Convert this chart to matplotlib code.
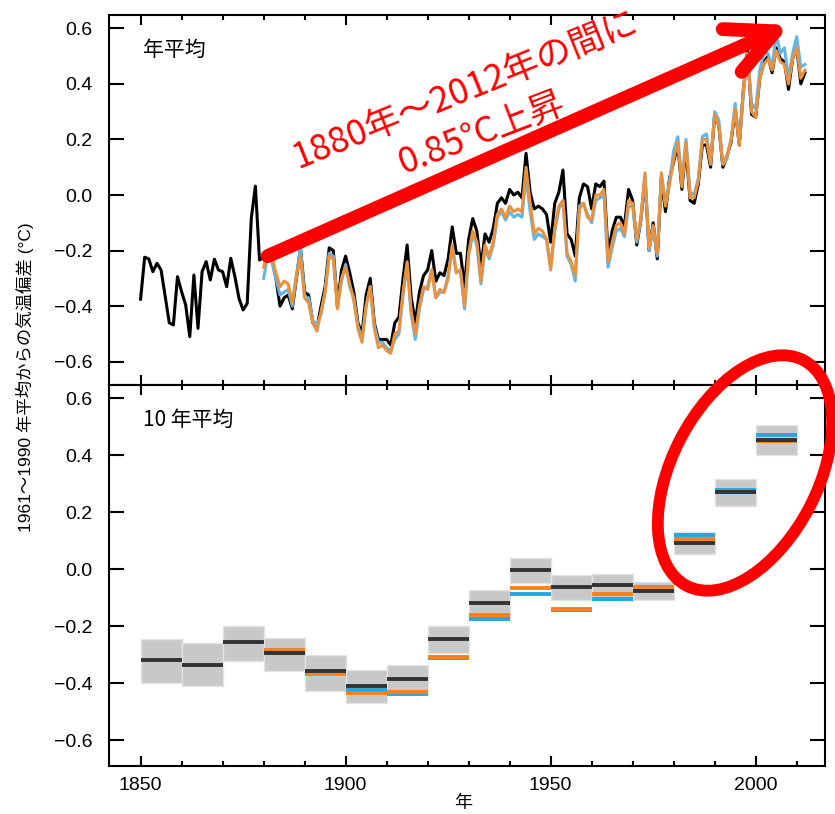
import matplotlib
matplotlib.use('Agg')
import matplotlib.pyplot as plt
from matplotlib.patches import Ellipse, FancyArrowPatch
from matplotlib.transforms import IdentityTransform
from matplotlib.ticker import MultipleLocator, FuncFormatter

plt.rcParams['font.family'] = ['Liberation Sans', 'Noto Sans CJK JP', 'DejaVu Sans']

# ---------------- data ----------------
years_black = list(range(1850, 2013))
hadcrut4 = [
    -0.375, -0.224, -0.230, -0.276, -0.246, -0.270, -0.366, -0.460, -0.468, -0.294,
    -0.348, -0.396, -0.510, -0.288, -0.480, -0.276, -0.240, -0.306, -0.231, -0.270,
    -0.276, -0.330, -0.228, -0.294, -0.372, -0.414, -0.390, -0.084, 0.032, -0.234,
    -0.225, -0.210, -0.230, -0.300, -0.400, -0.370, -0.360, -0.410, -0.300, -0.190,
    -0.350, -0.360, -0.460, -0.480, -0.400, -0.330, -0.190, -0.200, -0.400, -0.270,
    -0.220, -0.280, -0.350, -0.460, -0.500, -0.360, -0.300, -0.460, -0.520, -0.520,
    -0.520, -0.540, -0.460, -0.440, -0.300, -0.180, -0.370, -0.460, -0.350, -0.290,
    -0.270, -0.200, -0.310, -0.280, -0.290, -0.230, -0.115, -0.210, -0.210, -0.330,
    -0.160, -0.085, -0.130, -0.260, -0.140, -0.170, -0.120, -0.030, -0.010, -0.030,
    0.020, 0.000, 0.010, -0.010, 0.150, 0.010, -0.050, -0.040, -0.050, -0.070,
    -0.170, -0.030, 0.010, 0.090, -0.140, -0.160, -0.220, -0.010, 0.040, 0.030,
    -0.050, 0.040, 0.030, 0.050, -0.210, -0.130, -0.080, -0.080, -0.110, 0.020,
    -0.020, -0.180, -0.090, 0.060, -0.200, -0.100, -0.230, 0.060, -0.060, 0.060,
    0.120, 0.180, 0.020, 0.170, -0.020, -0.030, 0.040, 0.180, 0.180, 0.100,
    0.290, 0.250, 0.100, 0.140, 0.190, 0.310, 0.180, 0.380, 0.520, 0.290,
    0.280, 0.420, 0.480, 0.500, 0.440, 0.530, 0.490, 0.480, 0.380, 0.490,
    0.530, 0.400, 0.440,
]

years_other = list(range(1880, 2013))
ncdc = [
    -0.26, -0.20, -0.22, -0.28, -0.33, -0.31, -0.32, -0.39, -0.29, -0.22,
    -0.37, -0.39, -0.46, -0.49, -0.42, -0.35, -0.22, -0.23, -0.41, -0.30,
    -0.26, -0.32, -0.38, -0.48, -0.53, -0.40, -0.33, -0.48, -0.55, -0.54,
    -0.56, -0.57, -0.50, -0.49, -0.35, -0.24, -0.42, -0.50, -0.40, -0.33,
    -0.34, -0.27, -0.37, -0.34, -0.35, -0.30, -0.18, -0.28, -0.27, -0.40,
    -0.21, -0.13, -0.17, -0.31, -0.18, -0.22, -0.17, -0.07, -0.05, -0.08,
    -0.04, -0.06, -0.05, -0.06, 0.10, -0.03, -0.14, -0.12, -0.13, -0.16,
    -0.27, -0.12, -0.04, -0.02, -0.21, -0.24, -0.29, -0.05, -0.03, -0.08,
    -0.09, 0.00, 0.00, 0.02, -0.24, -0.17, -0.11, -0.10, -0.14, -0.02,
    -0.03, -0.16, -0.08, 0.08, -0.19, -0.11, -0.21, 0.08, -0.04, 0.04,
    0.13, 0.19, 0.03, 0.19, -0.01, -0.01, 0.05, 0.20, 0.20, 0.11,
    0.29, 0.25, 0.11, 0.14, 0.20, 0.31, 0.18, 0.38, 0.51, 0.30,
    0.28, 0.42, 0.47, 0.49, 0.45, 0.52, 0.48, 0.47, 0.40, 0.49,
    0.53, 0.42, 0.45,
]
giss = [
    -0.30, -0.22, -0.24, -0.30, -0.36, -0.35, -0.34, -0.40, -0.29, -0.19,
    -0.37, -0.37, -0.45, -0.47, -0.43, -0.35, -0.21, -0.22, -0.40, -0.31,
    -0.25, -0.33, -0.37, -0.47, -0.52, -0.40, -0.33, -0.47, -0.53, -0.53,
    -0.55, -0.56, -0.52, -0.50, -0.36, -0.25, -0.43, -0.52, -0.41, -0.34,
    -0.33, -0.27, -0.37, -0.35, -0.35, -0.29, -0.19, -0.28, -0.27, -0.41,
    -0.22, -0.14, -0.18, -0.32, -0.19, -0.23, -0.18, -0.08, -0.06, -0.09,
    -0.06, -0.08, -0.07, -0.08, 0.07, -0.06, -0.16, -0.14, -0.15, -0.16,
    -0.26, -0.13, -0.05, -0.02, -0.22, -0.25, -0.31, -0.04, -0.03, -0.07,
    -0.10, -0.02, -0.01, 0.00, -0.26, -0.19, -0.13, -0.12, -0.15, -0.04,
    -0.04, -0.17, -0.09, 0.07, -0.20, -0.12, -0.22, 0.07, -0.03, 0.05,
    0.16, 0.21, 0.05, 0.20, 0.01, 0.00, 0.06, 0.21, 0.22, 0.12,
    0.30, 0.27, 0.11, 0.13, 0.20, 0.33, 0.19, 0.36, 0.51, 0.33,
    0.31, 0.45, 0.51, 0.51, 0.46, 0.58, 0.51, 0.53, 0.42, 0.51,
    0.57, 0.46, 0.47,
]

dec_start = list(range(1850, 2010, 10))
dec_black = [-0.318, -0.336, -0.256, -0.293, -0.356, -0.410, -0.385, -0.245,
             -0.119, -0.003, -0.062, -0.055, -0.077, 0.093, 0.269, 0.452]
dec_lo = [-0.400, -0.410, -0.324, -0.359, -0.428, -0.470, -0.440, -0.295,
          -0.177, -0.048, -0.107, -0.112, -0.110, 0.053, 0.223, 0.400]
dec_hi = [-0.247, -0.260, -0.200, -0.242, -0.300, -0.353, -0.338, -0.198,
          -0.074, 0.040, -0.021, -0.018, -0.045, 0.131, 0.316, 0.505]
dec_start_other = list(range(1880, 2010, 10))
dec_orange = [-0.285, -0.367, -0.434, -0.432, -0.309, -0.162, -0.065, -0.140,
              -0.087, -0.062, 0.107, 0.270, 0.450]
dec_blue = [-0.296, -0.362, -0.424, -0.440, -0.312, -0.174, -0.086, -0.142,
            -0.106, -0.066, 0.120, 0.276, 0.471]

# ---------------- figure ----------------
W, H = 835, 814
fig = plt.figure(figsize=(W / 100, H / 100), dpi=100)
L, R = 109, 825
ax1 = fig.add_axes([L / W, 1 - 385 / H, (R - L) / W, (385 - 15) / H])
ax2 = fig.add_axes([L / W, 1 - 766 / H, (R - L) / W, (766 - 385) / H])

c_black = 'black'
c_blue_top = '#62b5e5'
c_orange_top = '#e8913f'
c_blue_bot = '#2aa3de'
c_orange_bot = '#f5821f'

ax1.plot(years_black, hadcrut4, color=c_black, lw=2.2, zorder=3)
ax1.plot(years_other, giss, color=c_blue_top, lw=2.2, zorder=4)
ax1.plot(years_other, ncdc, color=c_orange_top, lw=2.2, zorder=5)

heights = [h - l for h, l in zip(dec_hi, dec_lo)]
ax2.bar(dec_start, heights, bottom=dec_lo, width=10, align='edge',
        color='#c8c8c8', edgecolor='#e2e2e2', linewidth=1.0, zorder=2)
ax2.hlines(dec_blue, [d for d in dec_start_other], [d + 10 for d in dec_start_other],
           color=c_blue_bot, lw=2.8, zorder=3)
ax2.hlines(dec_orange, [d for d in dec_start_other], [d + 10 for d in dec_start_other],
           color=c_orange_bot, lw=2.8, zorder=4)
ax2.hlines(dec_black, dec_start, [d + 10 for d in dec_start],
           color='#333333', lw=2.8, zorder=5)

fmt = FuncFormatter(lambda v, p: ('%.1f' % (0.0 if abs(v) < 1e-9 else v)).replace('-', '\u2212'))
for ax, ylim in ((ax1, (-0.684, 0.648)), (ax2, (-0.691, 0.646))):
    ax.set_xlim(1842.3, 2016.9)
    ax.set_ylim(*ylim)
    ax.xaxis.set_major_locator(MultipleLocator(50))
    ax.xaxis.set_minor_locator(MultipleLocator(10))
    ax.yaxis.set_major_locator(MultipleLocator(0.2))
    ax.yaxis.set_major_formatter(fmt)
    ax.tick_params(which='both', direction='in', top=True, right=True, width=1.5,
                   labelsize=14, colors='black')
    ax.tick_params(axis='x', which='major', length=7.5, pad=8)
    ax.tick_params(axis='x', which='minor', length=3.5)
    ax.tick_params(axis='y', which='major', length=10.5, pad=12)
    for s in ax.spines.values():
        s.set_linewidth(1.5)
ax1.tick_params(axis='x', labelbottom=False)

ax1.text(0.047, 0.905, '年平均', transform=ax1.transAxes, ha='left', va='center',
         fontsize=15, family=['Noto Sans CJK JP'])
ax2.text(0.047, 0.908, '10 年平均', transform=ax2.transAxes, ha='left', va='center',
         fontsize=15, family=['Noto Sans CJK JP'])

fig.text(25 / W, 1 - 377 / H, '1961～1990 年平均からの気温偏差 (°C)', rotation=90,
         ha='center', va='center', fontsize=12.5)
fig.text(463 / W, 1 - 803 / H, '年', ha='center', va='center', fontsize=13,
         family=['Noto Sans CJK JP'])

# red arrow and text
arrow = FancyArrowPatch((1881.0, -0.22), (2008.3, 0.612),
                        arrowstyle='->,head_length=0.85,head_width=0.42',
                        mutation_scale=40, lw=10, color='#ff0000',
                        capstyle='round', joinstyle='round',
                        shrinkA=0, shrinkB=0, zorder=10, clip_on=False)
ax1.add_patch(arrow)
ax1.text(1929.3, 0.374, '1880年～2012年の間に', rotation=22, rotation_mode='anchor',
         ha='center', va='center', color='#ff0000', fontsize=25.5,
         family=['Noto Sans CJK JP'], zorder=11)
ax1.text(1933.2, 0.223, '0.85°C上昇', rotation=21, rotation_mode='anchor',
         ha='center', va='center', color='#ff0000', fontsize=25.5,
         family=['Noto Sans CJK JP'], zorder=11)

# red ellipse (display pixel coordinates, origin bottom-left)
ell = Ellipse((745, H - 473), width=254, height=146, angle=62.7,
              transform=IdentityTransform(), fill=False, edgecolor='#ff0000',
              lw=8.5, zorder=20)
fig.add_artist(ell)

fig.savefig('out.png', dpi=100)
